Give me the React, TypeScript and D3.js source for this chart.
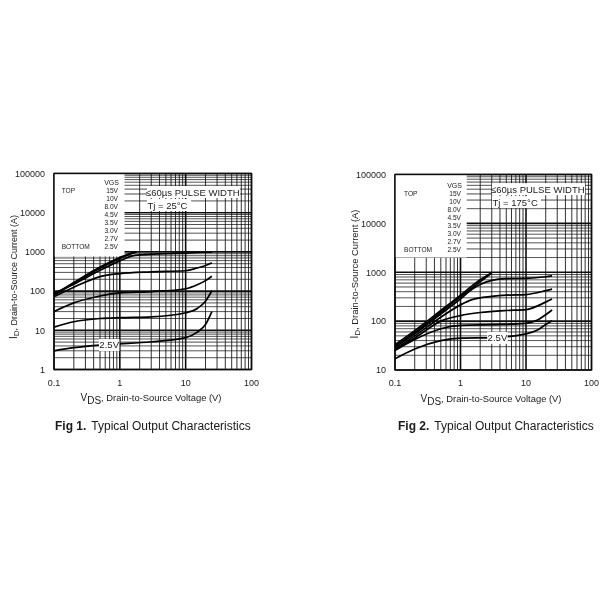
import React from "react";
import * as d3 from "d3";

const vgsLabels = ["15V", "10V", "8.0V", "4.5V", "3.5V", "3.0V", "2.7V", "2.5V"];
const xTicks = [0.1, 1, 10, 100];
const yTicksFig1 = [1, 10, 100, 1000, 10000, 100000];
const yTicksFig2 = [10, 100, 1000, 10000, 100000];

type Pt = [number, number];
const fig1Top: Pt[] = [[0.1, 82], [0.2, 165], [0.5, 410], [1, 720], [1.4, 900], [1.8, 1000]];
const fig1Second: Pt[] = [[0.1, 78], [0.2, 155], [0.5, 385], [1, 680], [1.4, 860], [1.75, 980]];
const fig1V45: Pt[] = [[0.1, 88], [0.2, 150], [0.5, 340], [1, 590], [1.5, 780], [2, 840], [5, 900], [10, 930], [20, 980], [25, 980]];
const fig1V35: Pt[] = [[0.1, 72], [0.2, 125], [0.5, 235], [1, 280], [3, 310], [10, 330], [15, 390], [20, 450], [25, 530]];
const fig1V30: Pt[] = [[0.1, 30], [0.2, 50], [0.5, 75], [1, 90], [3, 97], [10, 115], [15, 145], [20, 185], [25, 240]];
const fig1V27: Pt[] = [[0.1, 12], [0.2, 16.5], [0.5, 20], [1, 21], [3, 22], [10, 28], [15, 36], [20, 55], [25, 102]];
const fig1V25: Pt[] = [[0.1, 3], [0.2, 3.6], [0.5, 4.2], [1, 4.5], [3, 5.1], [10, 6.5], [15, 9], [20, 14], [25, 30]];
const fig1Curves = [fig1Top, fig1Second, fig1V45, fig1V35, fig1V30, fig1V27, fig1V25];

const fig2Top: Pt[] = [[0.1, 33], [0.2, 64], [0.5, 165], [1, 340], [2, 700], [3, 980]];
const fig2Second: Pt[] = [[0.1, 31], [0.2, 59], [0.5, 152], [1, 315], [2, 640], [2.9, 930]];
const fig2V8: Pt[] = [[0.1, 29], [0.2, 55], [0.5, 140], [1, 285], [1.5, 450], [2, 560], [3, 680], [5, 740], [10, 750], [20, 810], [25, 845]];
const fig2V45: Pt[] = [[0.1, 27], [0.2, 50], [0.5, 120], [1, 215], [1.5, 275], [3, 320], [5, 340], [10, 350], [20, 420], [25, 453]];
const fig2V35: Pt[] = [[0.1, 26], [0.2, 45], [0.5, 100], [1, 130], [2, 150], [5, 165], [10, 172], [20, 245], [25, 283]];
const fig2V30: Pt[] = [[0.1, 25], [0.2, 42], [0.5, 70], [1, 82], [3, 85], [10, 90], [15, 105], [20, 135], [25, 169]];
const fig2V25: Pt[] = [[0.1, 17], [0.2, 27], [0.5, 40], [1, 45], [3, 46], [10, 55], [15, 66], [20, 85], [25, 102]];
const fig2Curves = [fig2Top, fig2Second, fig2V8, fig2V45, fig2V35, fig2V30, fig2V25];

const isDecade = (v: number) => Math.abs(Math.log10(v) - Math.round(Math.log10(v))) < 1e-6;
const font = "'Liberation Sans', Arial, sans-serif";
const ink = "#1a1a1a";

type PanelProps = {
  left: number; right: number; top: number; bottom: number;
  yMin: number; yTicks: number[]; curves: Pt[][];
  fig: string; temp: string; tickX: number; titleX: number; titleY: number; titleSize: number;
  capX: number; capY: number; xLabelX: number; xLabelY: number; labelAt: Pt;
  noteX: number; noteY: number; legendW: number; colDx: number; rowDy: number; sideDx: number;
};

function Panel(p: PanelProps) {
  const x = d3.scaleLog().domain([0.1, 100]).range([p.left, p.right]);
  const y = d3.scaleLog().domain([p.yMin, 100000]).range([p.bottom, p.top]);
  const line = d3.line<Pt>().x(d => x(d[0])).y(d => y(d[1])).curve(d3.curveMonotoneX);
  const lx = x(p.labelAt[0]);
  const ly = y(p.labelAt[1]);
  const legendBottom = p.top + 83;
  const colEnd = p.left + p.colDx;
  const rowY = (i: number) => p.top + p.rowDy + i * 8.03;
  return (
    <g fontFamily={font} fill={ink} filter="url(#soft)">
      {x.ticks().map(t => (
        <line key={"x" + t} x1={x(t)} x2={x(t)} y1={p.top} y2={p.bottom} stroke="#111"
          strokeWidth={isDecade(t) ? 1.6 : 1} opacity={isDecade(t) ? 1 : 0.85} />
      ))}
      {y.ticks().map(t => (
        <line key={"y" + t} x1={p.left} x2={p.right} y1={y(t)} y2={y(t)} stroke="#111"
          strokeWidth={isDecade(t) ? 1.6 : 0.9} opacity={isDecade(t) ? 1 : 0.8} />
      ))}
      <rect x={p.left} y={p.top} width={p.legendW} height={legendBottom - p.top} fill="#fff" />
      <rect x={p.left} y={p.top} width={p.right - p.left} height={p.bottom - p.top} fill="none" stroke="#111" strokeWidth={1.4} />
      {p.curves.map((c, i) => (
        <path key={i} d={line(c) ?? ""} fill="none" stroke="#000" strokeWidth={1.7} />
      ))}
      <rect x={lx - 0.5} y={ly - 6} width={20.5} height={12} fill="#fff" />
      <text x={lx + 9.8} y={ly + 3.4} fontSize={9.6} textAnchor="middle">2.5V</text>
      <rect x={p.noteX} y={p.noteY - 9.5} width={93} height={12} fill="#fff" />
      <text x={p.noteX - 1} y={p.noteY} fontSize={9.5}>≤60µs PULSE WIDTH</text>
      <rect x={p.noteX} y={p.noteY + 3.5} width={p.temp.length * 4.9} height={12} fill="#fff" />
      <text x={p.noteX + 0.5} y={p.noteY + 13} fontSize={9.5}>{p.temp}</text>
      <text x={colEnd} y={rowY(-1) + 2.3} fontSize={7} textAnchor="end">VGS</text>
      {vgsLabels.map((l, i) => (
        <text key={l} x={colEnd - 1} y={rowY(i) + 2.3} fontSize={6.6} textAnchor="end">{l}</text>
      ))}
      <text x={p.left + p.sideDx} y={rowY(0) + 2.3} fontSize={6.6}>TOP</text>
      <text x={p.left + p.sideDx} y={rowY(7) + 2.3} fontSize={6.6}>BOTTOM</text>
      {xTicks.map(t => (
        <text key={t} x={x(t)} y={p.bottom + 16} fontSize={9} textAnchor="middle">{t}</text>
      ))}
      {p.yTicks.map(t => (
        <text key={t} x={p.tickX} y={y(t) + 3.3} fontSize={9} textAnchor="end">{t}</text>
      ))}
      <text transform={`translate(${p.titleX},${p.titleY}) rotate(-90)`} fontSize={p.titleSize} textAnchor="middle">
        <tspan fontSize={10}>I</tspan><tspan fontSize={8} dy={2}>D</tspan><tspan dy={-2}>, Drain-to-Source Current (A)</tspan>
      </text>
      <text x={p.xLabelX} y={p.xLabelY} fontSize={9.4} textAnchor="middle">
        <tspan fontSize={10}>V</tspan><tspan fontSize={10} dy={2.5}>DS</tspan><tspan dy={-2.5}>, Drain-to-Source Voltage (V)</tspan>
      </text>
      <text x={p.capX} y={p.capY} fontSize={12}>
        <tspan fontWeight={700}>{p.fig}</tspan><tspan dx={5}>Typical Output Characteristics</tspan>
      </text>
    </g>
  );
}

export default function App() {
  return (
    <svg width={600} height={600} style={{ position: "absolute", left: 0, top: 0, background: "#fff" }}>
      <defs>
        <filter id="soft" x="-5%" y="-5%" width="110%" height="110%">
          <feGaussianBlur stdDeviation="0.4" />
        </filter>
      </defs>
      <Panel left={54} right={251.5} top={173.5} bottom={369.5} yMin={1} yTicks={yTicksFig1} curves={fig1Curves}
        fig="Fig 1." temp="Tj = 25°C" tickX={45} titleX={17} titleY={277} titleSize={9} capX={55} capY={430}
        xLabelX={151} xLabelY={401} labelAt={[0.49, 4.2]}
        noteX={147} noteY={195.5} legendW={70.5} colDx={65} rowDy={17.2} sideDx={7.7} />
      <Panel left={395} right={591.5} top={174.5} bottom={370} yMin={10} yTicks={yTicksFig2} curves={fig2Curves}
        fig="Fig 2." temp="Tj = 175°C" tickX={386} titleX={358} titleY={274} titleSize={9.4} capX={398} capY={430}
        xLabelX={491} xLabelY={402} labelAt={[2.6, 45.5]}
        noteX={492} noteY={192.6} legendW={71.7} colDx={67} rowDy={18.8} sideDx={9} />
    </svg>
  );
}
